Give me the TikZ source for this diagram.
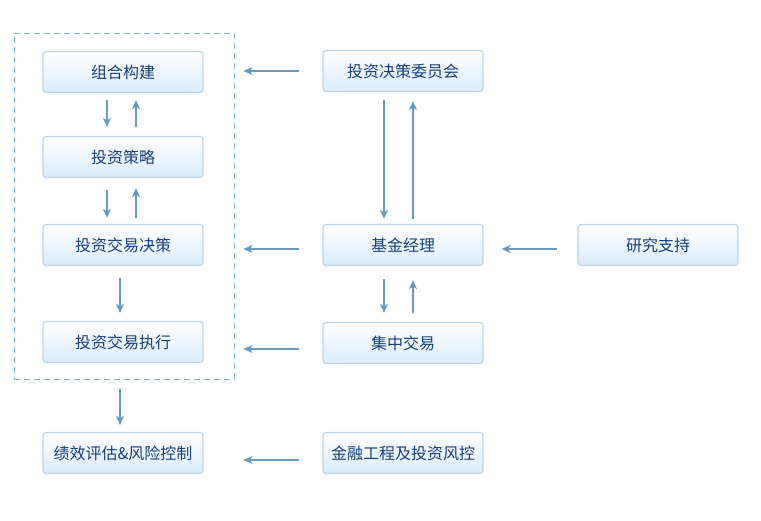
\documentclass[tikz,border=0pt]{standalone}
\usepackage{fontspec}
\setmainfont{Noto Sans CJK SC}
\usetikzlibrary{arrows.meta}
\definecolor{boxline}{HTML}{BCD4EA}
\definecolor{boxfill}{HTML}{DAECFC}
\definecolor{boxtext}{HTML}{183F78}
\definecolor{arrline}{HTML}{6A99BE}
\definecolor{frameline}{HTML}{7DB2D8}
\tikzset{
  box/.style={draw=boxline, line width=1.2pt, rounded corners=3pt,
    top color=white, bottom color=boxfill, minimum width=160pt,
    minimum height=41pt, inner sep=0pt, text=boxtext,
    font=\fontsize{16}{18}\selectfont},
  arr/.style={draw=arrline, line width=1.3pt, -{Stealth[length=9pt,width=8pt,inset=2.5pt]}},
  frame/.style={draw=frameline, line width=0.9pt, dash pattern=on 6pt off 4pt,
    minimum width=220pt, minimum height=346pt, inner sep=0pt}
}
\begin{document}
\begin{tikzpicture}[x=1pt,y=-1pt]
\useasboundingbox (0,0) rectangle (761,520);
% left column
\node[frame] (frame) at (124,206) {};
\node[box] (build) at (123,72) {组合构建};
\node[box] (strat) at (123,157) {投资策略};
\node[box] (decide) at (123,245) {投资交易决策};
\node[box] (exec) at (123,342) {投资交易执行};
\node[box] (eval) at (123,453) {绩效评估\&风险控制};
% right columns
\node[box] (comm) at (403,71) {投资决策委员会};
\node[box] (fm) at (403,245) {基金经理};
\node[box] (trade) at (403,343) {集中交易};
\node[box] (risk) at (403,453) {金融工程及投资风控};
\node[box] (research) at (658,245) {研究支持};
% arrows in the frame
\draw[arr, shorten <=7pt, shorten >=9pt] ([xshift=-16pt]build.south) -- ([xshift=-16pt]strat.north);
\draw[arr, shorten <=9pt, shorten >=7pt] ([xshift=13pt]strat.north) -- ([xshift=13pt]build.south);
\draw[arr, shorten <=12pt, shorten >=6pt] ([xshift=-16pt]strat.south) -- ([xshift=-16pt]decide.north);
\draw[arr, shorten <=6pt, shorten >=10pt] ([xshift=13pt]decide.north) -- ([xshift=13pt]strat.south);
\draw[arr, shorten <=12pt, shorten >=8pt] ([xshift=-3pt]decide.south) -- ([xshift=-3pt]exec.north);
\draw[arr, shorten <=10pt, shorten >=7pt] (frame.south -| eval.north) ++(-3pt,0) -- ([xshift=-3pt]eval.north);
% arrows on the right
\draw[arr, shorten <=8pt, shorten >=5pt] ([xshift=-19pt]comm.south) -- ([xshift=-19pt]fm.north);
\draw[arr, shorten <=5pt, shorten >=9pt] ([xshift=10pt]fm.north) -- ([xshift=10pt]comm.south);
\draw[arr, shorten <=13pt, shorten >=9pt] ([xshift=-19pt]fm.south) -- ([xshift=-19pt]trade.north);
\draw[arr, shorten <=9pt, shorten >=14pt] ([xshift=10pt]trade.north) -- ([xshift=10pt]fm.south);
% arrows to the left
\draw[arr, shorten <=23pt, shorten >=9pt] (comm.west) -- (comm.west -| frame.east);
\draw[arr, shorten <=23pt, shorten >=9pt] ([yshift=-4pt]fm.west) -- ([yshift=-4pt]fm.west -| frame.east);
\draw[arr, shorten <=23pt, shorten >=9pt] ([yshift=-6pt]trade.west) -- ([yshift=-6pt]trade.west -| frame.east);
\draw[arr, shorten <=23pt, shorten >=40pt] ([yshift=-7pt]risk.west) -- ([yshift=-7pt]eval.east);
\draw[arr, shorten <=20pt, shorten >=18pt] ([yshift=-4pt]research.west) -- ([yshift=-4pt]fm.east);
\end{tikzpicture}
\end{document}
